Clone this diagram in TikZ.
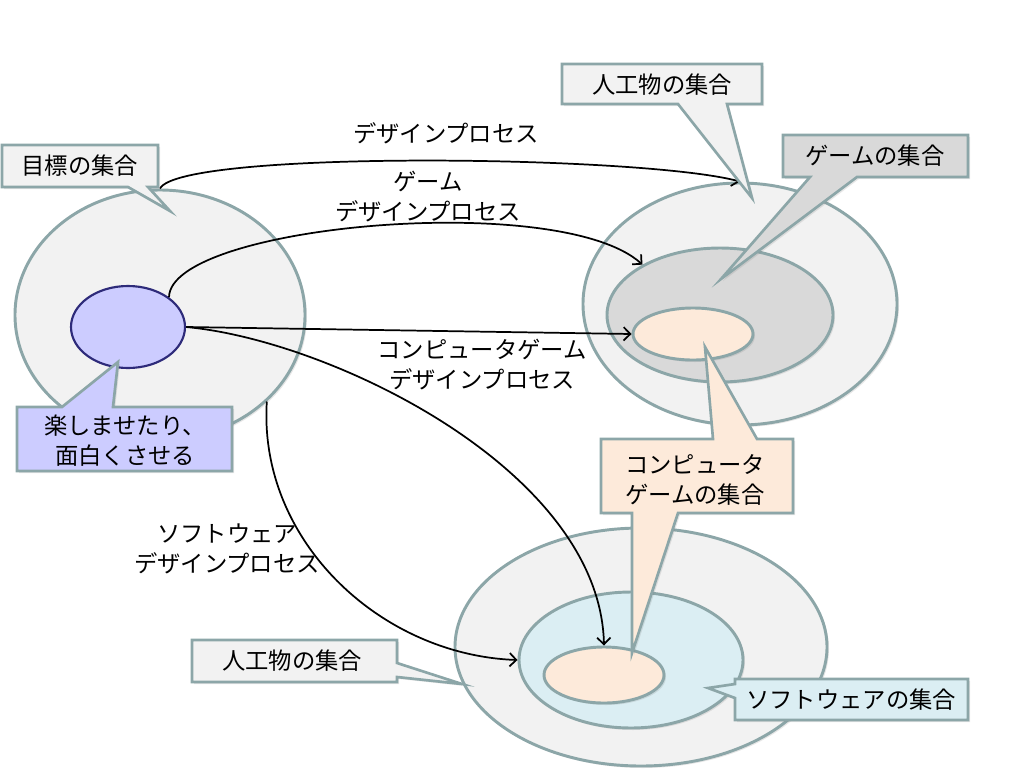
\documentclass[tikz,border=0pt]{standalone}
\usepackage{fontspec}
\setmainfont{Noto Sans CJK JP}
\usepackage{tikz}
\usetikzlibrary{arrows,arrows.meta,shapes.geometric,shadows}
\definecolor{rimgray}{RGB}{140,166,168}
\definecolor{pale}{RGB}{242,242,242}
\definecolor{midgray}{RGB}{217,217,217}
\definecolor{peach}{RGB}{253,234,218}
\definecolor{iceblue}{RGB}{219,238,243}
\definecolor{lilac}{RGB}{204,204,255}
\definecolor{navy}{RGB}{46,43,122}
\tikzset{
  setring/.style={ellipse, draw=rimgray, line width=2.2pt, inner sep=0pt,
    drop shadow={opacity=0.2, shadow xshift=1.5pt, shadow yshift=-1.5pt}},
  bubble/.style={draw=rimgray, line width=2pt,
    drop shadow={opacity=0.2, shadow xshift=1.5pt, shadow yshift=-1.5pt}},
  flow/.style={-{Straight Barb[length=5pt,width=10pt]}, line width=1.3pt, black},
}

\begin{document}
\begin{tikzpicture}[x=0.75pt,y=-0.75pt,font=\fontsize{17.5}{22.5}\selectfont]
\useasboundingbox (0,0) rectangle (1024,768);
% sets
\node[setring, fill=pale, minimum width=217.5pt, minimum height=187.5pt] (goalset) at (160,315) {};
\node[ellipse, draw=navy, line width=1.6pt, fill=lilac, inner sep=0pt, minimum width=85.5pt, minimum height=61.5pt] (purpose) at (128,327) {};
\node[setring, fill=pale, minimum width=235.5pt, minimum height=181.5pt] (artifactA) at (740,304) {};
\node[setring, fill=midgray, minimum width=169.5pt, minimum height=100.5pt] (gameset) at (720,315) {};
\node[setring, fill=peach, minimum width=90pt, minimum height=39pt] (cgameA) at (693,334) {};
\node[setring, fill=pale, minimum width=279pt, minimum height=178.5pt] (artifactB) at (641,647) {};
\node[setring, fill=iceblue, minimum width=168pt, minimum height=102pt] (softset) at (631,660) {};
\node[setring, fill=peach, minimum width=90pt, minimum height=42pt] (cgameB) at (604,675) {};

% processes
\draw[flow] (goalset.north) .. controls (180,150) and (640,155) .. (artifactA.north);
\draw[flow] (purpose.36) .. controls (170,225) and (560,190) .. (gameset.147);
\draw[flow] (purpose.east) -- (cgameA.west);
\draw[flow] (purpose.east) .. controls (330,340) and (600,470) .. (cgameB.north);
\draw[flow] (goalset.-39) .. controls (258,540) and (380,655) .. (softset.west);

% callouts
\path[bubble, fill=pale] (2,145) -- (158,145) -- (158,187) -- (148,187) -- (170,211) -- (128,187) -- (2,187) -- cycle;
\node (goalbox) at (80,166) {目標の集合};
\path[bubble, fill=lilac] (17,407) -- (62,407) -- (118,362) -- (113,407) -- (232,407) -- (232,471) -- (17,471) -- cycle;
\node[align=center] (aimbox) at (125,441) {楽しませたり、\\面白くさせる};
\path[bubble, fill=pale] (562,64) -- (762,64) -- (762,104) -- (727,104) -- (752,198) -- (678,104) -- (562,104) -- cycle;
\node (artboxA) at (662,85) {人工物の集合};
\path[bubble, fill=midgray] (783,135) -- (968,135) -- (968,177) -- (857,177) -- (721,279) -- (810,177) -- (783,177) -- cycle;
\node (gamebox) at (875,156) {ゲームの集合};
\path[bubble, fill=peach] (601,439) -- (713,439) -- (705,347) -- (757,439) -- (793,439) -- (793,513) -- (678,513) -- (632,653) -- (632,513) -- (601,513) -- cycle;
\node[align=center] (cgamebox) at (695,480) {コンピュータ\\ゲームの集合};
\path[bubble, fill=iceblue] (735,679) -- (968,679) -- (968,720) -- (735,720) -- (735,698) -- (708,688) -- (735,684) -- cycle;
\node (softbox) at (851,700) {ソフトウェアの集合};
\path[bubble, fill=pale] (192,640) -- (397,640) -- (397,663) -- (462,684) -- (397,677) -- (397,682) -- (192,682) -- cycle;
\node (artboxB) at (292,661) {人工物の集合};

% process labels
\node (lblDesign) at (446,133) {デザインプロセス};
\node[align=center] (lblGame) at (428,197) {ゲーム\\デザインプロセス};
\node[align=center] (lblCGame) at (482,365) {コンピュータゲーム\\デザインプロセス};
\node[align=center] (lblSoft) at (227,549) {ソフトウェア\\デザインプロセス};
\end{tikzpicture}
\end{document}
